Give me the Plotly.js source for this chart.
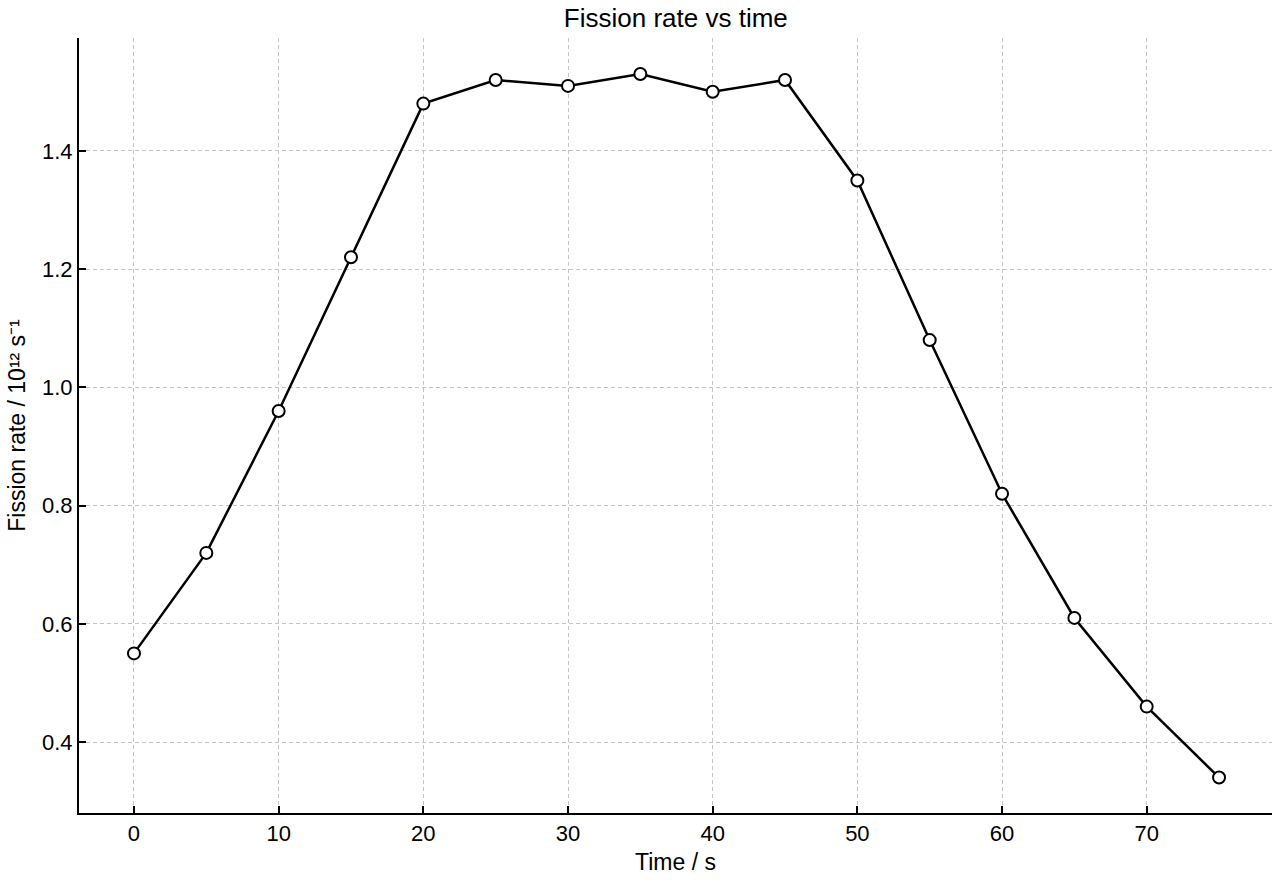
<!DOCTYPE html>
<html>
<head>
<meta charset="utf-8">
<script src="https://cdn.plot.ly/plotly-3.0.1.min.js"></script>
<style>
  html, body { margin: 0; padding: 0; background: #fff; }
  #chart { width: 1280px; height: 880px; }
</style>
</head>
<body>
<div id="chart"></div>
<script>
// time in seconds
const timeS = [0, 5, 10, 15, 20, 25, 30, 35, 40, 45, 50, 55, 60, 65, 70, 75];
// fission rate in 10^12 per second
const fissionRate = [0.55, 0.72, 0.96, 1.22, 1.48, 1.52, 1.51, 1.53, 1.50, 1.52, 1.35, 1.08, 0.82, 0.61, 0.46, 0.34];

const xTicks = [0, 10, 20, 30, 40, 50, 60, 70];
const yTicks = [0.4, 0.6, 0.8, 1.0, 1.2, 1.4];

const font = 'Liberation Sans, Arial, Helvetica, sans-serif';

const axisStyle = {
  ticks: 'inside',
  ticklen: 7,
  tickwidth: 2,
  tickcolor: '#000',
  tickfont: { family: font, size: 22, color: '#000' },
  showline: true,
  linecolor: '#000',
  linewidth: 2,
  mirror: false,
  showgrid: true,
  gridcolor: '#c4c4c4',
  griddash: '4px,3px',
  gridwidth: 1,
  zeroline: false
};

Plotly.newPlot('chart', [{
  x: timeS,
  y: fissionRate,
  type: 'scatter',
  mode: 'lines+markers',
  line: { color: '#000', width: 2.5 },
  marker: { size: 12, color: '#fff', line: { color: '#000', width: 2 } },
  hoverinfo: 'x+y'
}], {
  width: 1280,
  height: 880,
  paper_bgcolor: '#fff',
  plot_bgcolor: '#fff',
  font: { family: font, size: 23, color: '#000' },
  title: { text: 'Fission rate vs time', font: { family: font, size: 26 }, x: 0.528, xanchor: 'center', y: 0.98, yanchor: 'middle' },
  margin: { l: 79, r: 8, t: 38, b: 67 },
  showlegend: false,
  xaxis: Object.assign({}, axisStyle, {
    range: [-3.8, 78.66],
    tickvals: xTicks,
    ticktext: xTicks.map(String),
    title: { text: 'Time / s', font: { family: font, size: 23 }, standoff: 8 }
  }),
  yaxis: Object.assign({}, axisStyle, {
    range: [0.28, 1.591],
    tickvals: yTicks,
    ticktext: yTicks.map(v => v.toFixed(1)),
    title: { text: 'Fission rate / 10¹² s⁻¹', font: { family: font, size: 23 }, standoff: 10 }
  })
}, { displayModeBar: false });
</script>
</body>
</html>
